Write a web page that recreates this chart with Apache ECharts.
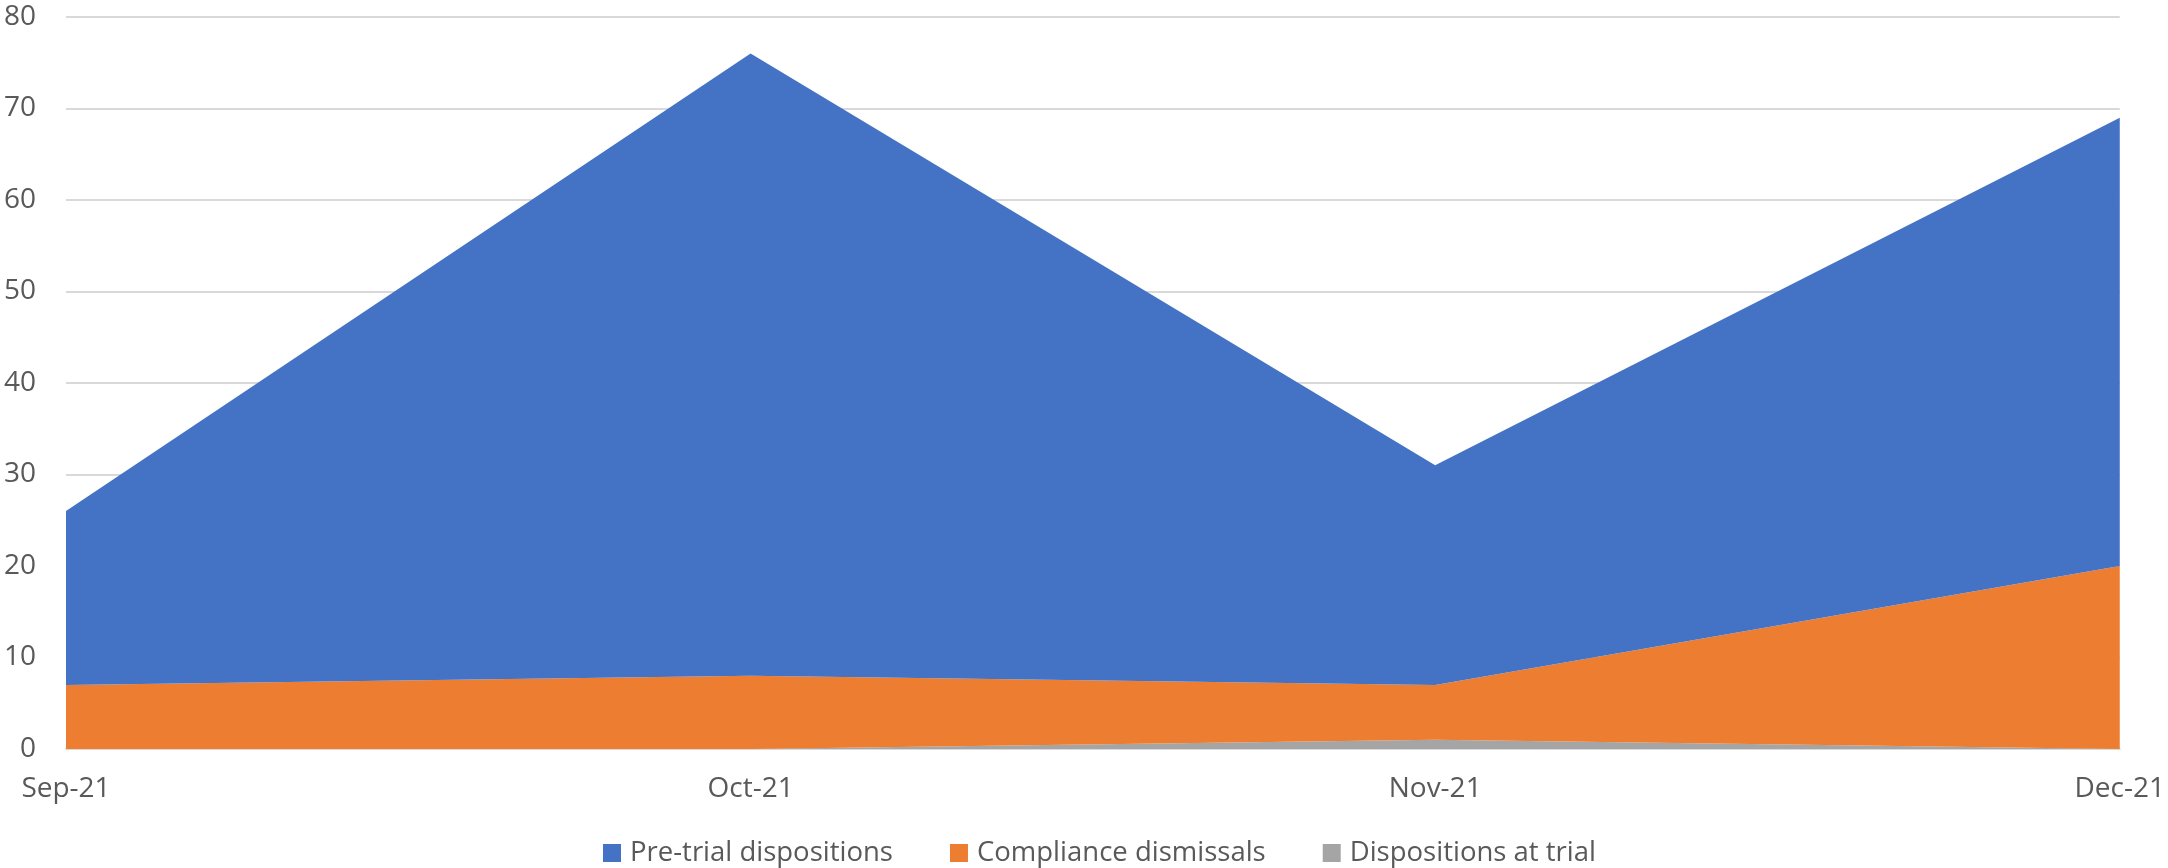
<!DOCTYPE html>
<html><head><meta charset="utf-8">
<script src="https://cdn.jsdelivr.net/npm/echarts@6/dist/echarts.min.js"></script>
<style>html,body{margin:0;padding:0;background:#fff}#c{width:2168px;height:868px}</style>
</head><body><div id="c"></div>
<script>
const categories = ['Sep-21', 'Oct-21', 'Nov-21', 'Dec-21'];
const preTrial = [19, 68, 24, 49];
const compliance = [7, 8, 6, 20];
const atTrial = [0, 0, 1, 0];
const yTicks = [0, 10, 20, 30, 40, 50, 60, 70, 80];

const chart = echarts.init(document.getElementById('c'));
const font = 'Open Sans';
function areaSeries(name, data, color) {
  return {
    name, type: 'line', stack: 'total', data,
    showSymbol: false, symbol: 'none',
    lineStyle: { width: 0, color },
    itemStyle: { color },
    areaStyle: { color, opacity: 1 }
  };
}
chart.setOption({
  animation: false,
  grid: { left: 66, right: 47, top: 17, bottom: 119 },
  legend: {
    data: ['Pre-trial dispositions', 'Compliance dismissals', 'Dispositions at trial'],
    top: 834, left: 598,
    itemWidth: 18, itemHeight: 18, itemGap: 57,
    icon: 'rect',
    textStyle: { fontFamily: font, fontSize: 27.5, color: '#595959', padding: [0, 0, 0, 4] }
  },
  xAxis: {
    type: 'category', data: categories, boundaryGap: false,
    axisLine: { lineStyle: { color: '#d9d9d9', width: 2 } },
    axisTick: { show: false },
    axisLabel: { fontFamily: font, fontSize: 28, color: '#595959', margin: 26 }
  },
  yAxis: {
    type: 'value', min: yTicks[0], max: yTicks[yTicks.length - 1], interval: 10,
    axisLine: { show: false }, axisTick: { show: false },
    splitLine: { lineStyle: { color: '#d9d9d9', width: 2 } },
    axisLabel: { fontFamily: font, fontSize: 28, color: '#595959', margin: 30 }
  },
  series: [
    areaSeries('Dispositions at trial', atTrial, '#A5A5A5'),
    areaSeries('Compliance dismissals', compliance, '#ED7D31'),
    areaSeries('Pre-trial dispositions', preTrial, '#4472C4')
  ]
});
</script></body></html>
